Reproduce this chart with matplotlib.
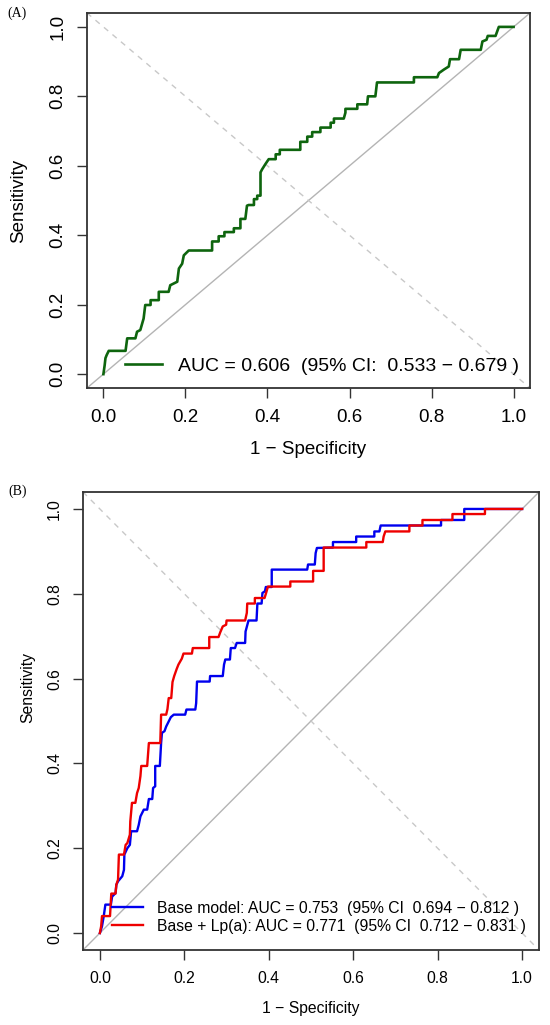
import numpy as np
import matplotlib
matplotlib.use("Agg")
from matplotlib import pyplot as plt

# ---- data (1 - specificity, sensitivity) ----
fpr_a = [0, 0.003, 0.005, 0.008, 0.013, 0.054, 0.058, 0.078, 0.082, 0.090, 0.098, 0.102,
         0.115, 0.115, 0.135, 0.135, 0.159, 0.163, 0.180, 0.184, 0.192, 0.196, 0.208,
         0.265, 0.265, 0.281, 0.281, 0.295, 0.295, 0.318, 0.318, 0.334, 0.334, 0.346,
         0.350, 0.354, 0.367, 0.367, 0.375, 0.375, 0.383, 0.383, 0.387, 0.395, 0.403,
         0.420, 0.420, 0.430, 0.430, 0.480, 0.480, 0.497, 0.497, 0.509, 0.509, 0.529,
         0.529, 0.554, 0.554, 0.562, 0.562, 0.586, 0.590, 0.590, 0.619, 0.619, 0.643,
         0.645, 0.663, 0.667, 0.757, 0.757, 0.814, 0.818, 0.830, 0.842, 0.845, 0.867,
         0.871, 0.920, 0.924, 0.934, 0.937, 0.956, 0.964, 1.0]
tpr_a = [0, 0.025, 0.046, 0.055, 0.067, 0.067, 0.103, 0.103, 0.122, 0.127, 0.160, 0.199,
         0.199, 0.213, 0.213, 0.237, 0.237, 0.256, 0.266, 0.304, 0.318, 0.342, 0.356,
         0.356, 0.382, 0.382, 0.397, 0.397, 0.409, 0.409, 0.420, 0.420, 0.447, 0.447,
         0.485, 0.487, 0.487, 0.504, 0.504, 0.514, 0.514, 0.581, 0.590, 0.605, 0.619,
         0.619, 0.633, 0.633, 0.646, 0.646, 0.669, 0.669, 0.684, 0.684, 0.697, 0.697,
         0.710, 0.710, 0.724, 0.724, 0.736, 0.736, 0.753, 0.764, 0.764, 0.777, 0.777,
         0.800, 0.800, 0.840, 0.840, 0.855, 0.855, 0.867, 0.877, 0.886, 0.907, 0.907,
         0.934, 0.934, 0.958, 0.963, 0.974, 0.974, 1.0, 1.0]
label_a = "AUC = 0.606  (95% CI:  0.533 \u2212 0.679 )"

fpr_base = [0, 0.005, 0.009, 0.013, 0.026, 0.029, 0.037, 0.039, 0.043, 0.053, 0.057, 0.058,
            0.065, 0.071, 0.074, 0.088, 0.092, 0.096, 0.104, 0.112, 0.116, 0.124, 0.126,
            0.131, 0.131, 0.142, 0.145, 0.147, 0.153, 0.157, 0.163, 0.168, 0.175, 0.202,
            0.205, 0.226, 0.228, 0.230, 0.260, 0.261, 0.291, 0.294, 0.297, 0.308, 0.310,
            0.320, 0.324, 0.344, 0.345, 0.352, 0.371, 0.373, 0.383, 0.385, 0.391, 0.393,
            0.407, 0.407, 0.491, 0.493, 0.509, 0.511, 0.514, 0.552, 0.552, 0.607, 0.607,
            0.650, 0.650, 0.662, 0.665, 0.808, 0.808, 0.863, 0.863, 1.0]
tpr_base = [0, 0.016, 0.039, 0.067, 0.067, 0.086, 0.094, 0.114, 0.122, 0.134, 0.149, 0.185,
            0.200, 0.208, 0.240, 0.240, 0.255, 0.275, 0.291, 0.291, 0.316, 0.316, 0.342,
            0.346, 0.394, 0.394, 0.448, 0.472, 0.476, 0.487, 0.499, 0.509, 0.515, 0.515,
            0.527, 0.527, 0.542, 0.593, 0.593, 0.606, 0.606, 0.633, 0.645, 0.645, 0.672,
            0.672, 0.684, 0.684, 0.711, 0.737, 0.737, 0.777, 0.777, 0.802, 0.806, 0.816,
            0.816, 0.857, 0.857, 0.869, 0.869, 0.896, 0.908, 0.909, 0.922, 0.922, 0.935,
            0.935, 0.947, 0.947, 0.961, 0.961, 0.974, 0.974, 1.0, 1.0]

fpr_lpa = [0, 0.003, 0.005, 0.024, 0.027, 0.037, 0.039, 0.043, 0.045, 0.057, 0.061, 0.065,
           0.071, 0.072, 0.076, 0.084, 0.088, 0.092, 0.096, 0.098, 0.112, 0.116, 0.143,
           0.145, 0.157, 0.160, 0.163, 0.169, 0.172, 0.176, 0.182, 0.186, 0.194, 0.198,
           0.218, 0.220, 0.259, 0.259, 0.281, 0.285, 0.291, 0.299, 0.300, 0.344, 0.348,
           0.349, 0.367, 0.367, 0.390, 0.394, 0.398, 0.451, 0.451, 0.505, 0.505, 0.530,
           0.530, 0.631, 0.631, 0.670, 0.672, 0.676, 0.733, 0.733, 0.764, 0.764, 0.835,
           0.835, 0.912, 0.912, 1.0]
tpr_lpa = [0, 0.016, 0.040, 0.040, 0.093, 0.093, 0.114, 0.126, 0.185, 0.185, 0.208, 0.212,
           0.232, 0.263, 0.307, 0.307, 0.330, 0.342, 0.370, 0.394, 0.394, 0.448, 0.448,
           0.515, 0.515, 0.528, 0.554, 0.554, 0.592, 0.606, 0.623, 0.633, 0.647, 0.659,
           0.659, 0.672, 0.672, 0.698, 0.698, 0.709, 0.723, 0.727, 0.737, 0.737, 0.755,
           0.777, 0.777, 0.790, 0.790, 0.803, 0.817, 0.817, 0.829, 0.829, 0.854, 0.854,
           0.909, 0.909, 0.922, 0.922, 0.935, 0.947, 0.947, 0.961, 0.961, 0.974, 0.974,
           0.988, 0.988, 1.0, 1.0]
label_base = "Base model: AUC = 0.753  (95% CI  0.694 \u2212 0.812 )"
label_lpa = "Base + Lp(a): AUC = 0.771  (95% CI  0.712 \u2212 0.831 )"

ticks = [0.0, 0.2, 0.4, 0.6, 0.8, 1.0]

plt.rcParams['font.family'] = ['Liberation Sans', 'DejaVu Sans']

W, H = 550, 1025
fig = plt.figure(figsize=(W / 100, H / 100), dpi=100)


def px_axes(l, t, r, b):
    return fig.add_axes([l / W, 1 - b / H, (r - l) / W, (b - t) / H])


def style(ax, fs):
    ax.set_xlim(-0.04, 1.04)
    ax.set_ylim(-0.04, 1.04)
    ax.axline((0, 0), (1, 1), color='#b4b4b4', lw=1.0, zorder=1)
    ax.axline((0, 1), slope=-1, color='#c8c8c8', lw=1.0, ls=(0, (4, 4)), zorder=1)
    ax.set_xticks(ticks)
    ax.set_yticks(ticks)
    ax.set_xticklabels([f"{t:.1f}" for t in ticks])
    ax.set_yticklabels([f"{t:.1f}" for t in ticks], rotation=90, va='center')
    ax.tick_params(direction='out', length=7, width=1.0, color='#333333',
                   labelsize=fs, pad=8)
    for s in ax.spines.values():
        s.set_color('#333333')
        s.set_linewidth(1.3)


# ---- panel A ----
axA = px_axes(87, 13, 530, 388)
style(axA, 13.5)
axA.plot(fpr_a, tpr_a, color='#0e650e', lw=1.9, label=label_a, zorder=3)
axA.set_xlabel("1 \u2212 Specificity", fontsize=13.5, va='center')
axA.set_ylabel("Sensitivity", fontsize=13.5, va='center')
axA.xaxis.set_label_coords(0.5, -0.165)
axA.yaxis.set_label_coords(-0.154, 0.5)
axA.legend(loc='center left', bbox_to_anchor=((125 - 87) / 443, (388 - 366) / 375),
           frameon=False, fontsize=14, handlelength=1.9, handletextpad=0.8,
           borderpad=0, borderaxespad=0)
fig.text(7 / W, 1 - 13 / H, "(A)", fontsize=10, family='Liberation Serif',
         ha='left', va='center')

# ---- panel B ----
axB = px_axes(83, 492, 539, 950)
style(axB, 11.3)
axB.plot(fpr_base, tpr_base, color='#0000ee', lw=1.7, label=label_base, zorder=3)
axB.plot(fpr_lpa, tpr_lpa, color='#ee0000', lw=1.7, label=label_lpa, zorder=4)
axB.set_xlabel("1 \u2212 Specificity", fontsize=11.3, va='center')
axB.set_ylabel("Sensitivity", fontsize=11.3, va='center')
axB.xaxis.set_label_coords(0.5, -0.127)
axB.yaxis.set_label_coords(-0.121, 0.574)
axB.legend(loc='center left', bbox_to_anchor=((112 - 83) / 456, (950 - 917.4) / 458),
           frameon=False, fontsize=11.3, handlelength=1.97, handletextpad=0.9,
           labelspacing=0.2, borderpad=0, borderaxespad=0)
fig.text(8 / W, 1 - 491 / H, "(B)", fontsize=10, family='Liberation Serif',
         ha='left', va='center')

fig.savefig("out.png", dpi=100)
